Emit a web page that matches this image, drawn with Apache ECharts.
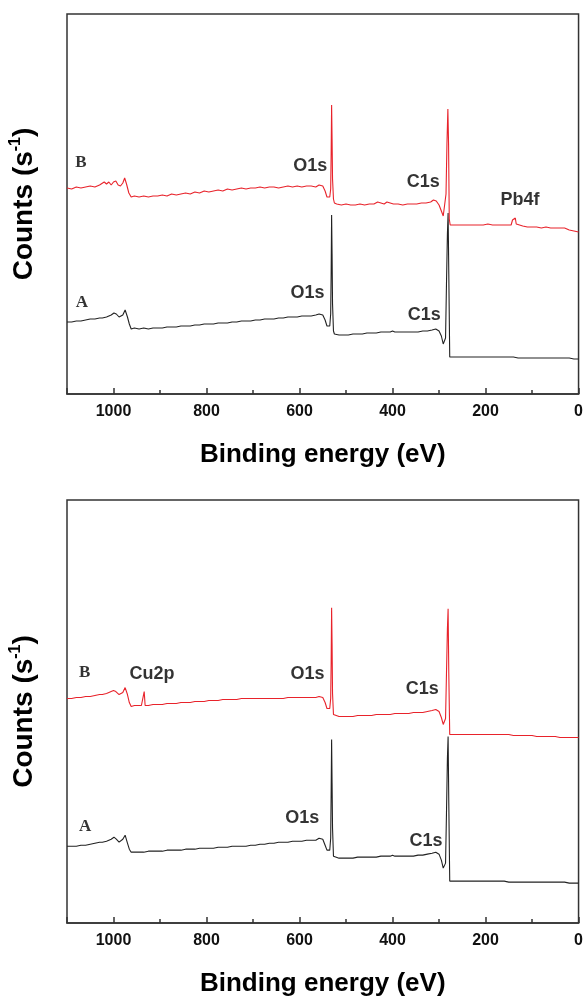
<!DOCTYPE html>
<html>
<head>
<meta charset="utf-8">
<script src="https://cdn.jsdelivr.net/npm/echarts@6/dist/echarts.min.js"></script>
<style>html,body{margin:0;padding:0;background:#fff;}#c{width:586px;height:998px;}</style>
</head>
<body>
<div id="c"></div>
<script>
// Binding energy ticks (eV)
const xTicks = [0, 200, 400, 600, 800, 1000];

// Panel 1 (Pb) : spectrum B (red) and A (black), [binding energy, counts a.u.]
const topB = [[1100,206],[1090,205],[1080,207],[1070,206],[1060,207],[1050,208],[1040,207],[1030,209],[1020,212],[1015,210],[1010,212],[1005,209],[1000,212],[995,213],[990,209],[985,208],[980,211],[976,216],[972,210],[967,201],[962,197],[955,198],[945,197],[935,198],[925,197],[915,198],[905,198],[895,199],[885,198],[875,200],[865,199],[855,200],[845,201],[835,200],[825,202],[815,201],[805,203],[795,202],[785,203],[775,204],[765,203],[755,205],[745,204],[735,205],[725,206],[715,205],[705,206],[695,206],[685,207],[675,206],[665,207],[655,207],[645,206],[635,207],[625,208],[615,207],[605,208],[595,207],[585,208],[575,208],[565,207],[558,209],[554,210],[550,208],[545,203],[541,197],[538,195],[535,197],[533,205],[532,240],[531,289],[530,255],[529,215],[527,195],[525,191],[520,190],[510,189],[500,190],[490,189],[480,189],[470,190],[460,189],[450,190],[440,190],[432,192],[428,190],[418,190],[412,192],[408,190],[398,190],[388,190],[378,189],[368,190],[358,190],[348,190],[338,191],[328,191],[318,192],[312,194],[306,193],[300,189],[295,183],[291,178],[288,180],[285,200],[283,250],[281,285],[279.5,250],[278,175],[276,169],[265,169],[255,169],[245,169],[235,169],[225,169],[215,169],[205,169],[195,170],[185,169],[175,169],[165,169],[155,169],[145,169],[142,174],[140,176],[138,172],[136,176],[134,170],[130,168],[120,168],[110,167],[100,167],[90,167],[80,166],[70,167],[60,166],[50,166],[40,166],[30,166],[20,164],[10,163],[0,162]];
const topA = [[1100,72],[1090,72],[1080,73],[1070,73],[1060,74],[1050,75],[1040,75],[1030,76],[1024,76],[1015,77],[1005,79],[999,81],[994,80],[988,77],[985,76],[980,79],[975,84],[970,77],[966,70],[962,65],[955,66],[945,65],[935,66],[925,65],[915,66],[905,66],[895,66],[885,67],[875,67],[865,67],[855,68],[845,68],[835,68],[825,69],[815,69],[805,70],[795,70],[785,70],[775,71],[765,71],[755,71],[745,72],[735,72],[725,73],[715,73],[705,73],[695,74],[685,74],[675,75],[665,75],[655,75],[645,76],[635,76],[625,77],[615,77],[605,77],[595,78],[585,78],[575,78],[565,79],[558,80],[554,81],[550,79],[545,74],[541,68],[538,66],[535,68],[533,80],[532,120],[531,179],[530,140],[529,90],[527,63],[525,60],[515,59],[505,59],[495,59],[485,60],[475,60],[465,60],[455,61],[445,61],[435,61],[425,62],[415,62],[405,62],[400,63],[395,62],[385,62],[375,62],[365,62],[355,62],[345,62],[335,63],[325,63],[315,64],[307,65],[300,63],[295,58],[291,50],[288,49],[286,56],[284,110],[282,160],[280.5,181],[279,120],[277,37],[270,37],[260,37],[250,37],[240,37],[230,37],[220,37],[210,37],[200,37],[190,37],[180,37],[170,37],[160,37],[150,37],[140,37],[130,36],[120,36],[110,36],[100,36],[90,36],[80,36],[70,36],[60,36],[50,36],[40,36],[30,36],[20,36],[10,35],[0,35]];

// Panel 2 (Cu)
const botB = [[1100,225],[1090,225],[1080,226],[1070,226],[1060,227],[1050,227],[1040,228],[1030,229],[1024,229],[1015,230],[1005,232],[1000,233],[995,232],[988,229],[985,228],[980,231],[975,236],[970,229],[966,221],[962,217],[955,218],[945,218],[940,218],[936,218],[934,232],[932,218],[925,218],[915,219],[905,219],[895,219],[885,220],[875,220],[865,220],[855,221],[845,221],[835,221],[825,222],[815,222],[805,222],[795,223],[785,223],[775,223],[765,224],[755,224],[745,224],[735,224],[725,225],[715,225],[705,225],[695,225],[685,225],[675,225],[665,225],[655,225],[645,225],[635,225],[625,226],[615,226],[605,226],[595,226],[585,226],[575,226],[565,226],[558,227],[554,228],[550,226],[545,221],[541,215],[538,213],[535,215],[533,225],[532,260],[531,316],[530,280],[529,230],[527,209],[525,207],[515,207],[505,207],[495,207],[485,207],[475,208],[465,208],[455,208],[445,208],[435,209],[425,209],[415,209],[405,209],[395,210],[385,210],[375,210],[365,210],[355,211],[345,211],[335,211],[325,212],[315,213],[307,214],[300,212],[295,206],[291,199],[288,198],[286,205],[284,250],[282,295],[280.5,315],[279,250],[277,189],[270,189],[260,189],[250,189],[240,189],[230,189],[220,189],[210,189],[200,189],[190,189],[180,189],[170,189],[160,189],[150,189],[140,188],[130,188],[120,188],[110,188],[100,188],[90,187],[80,187],[70,187],[60,187],[50,187],[40,186],[30,186],[20,186],[10,186],[0,186]];
const botA = [[1100,77],[1090,77],[1080,77],[1070,78],[1060,78],[1050,79],[1040,80],[1030,81],[1024,81],[1015,82],[1005,84],[999,86],[994,84],[988,81],[985,81],[980,84],[975,88],[970,80],[966,74],[962,71],[955,71],[945,71],[935,71],[925,72],[915,72],[905,72],[895,72],[885,73],[875,73],[865,73],[855,73],[845,74],[835,74],[825,74],[815,75],[805,75],[795,75],[785,75],[775,76],[765,76],[755,76],[745,77],[735,77],[725,77],[715,77],[705,78],[695,78],[685,79],[675,79],[665,80],[655,80],[645,81],[635,81],[625,81],[615,82],[605,82],[595,82],[585,83],[575,83],[565,83],[558,85],[554,86],[550,84],[545,78],[541,73],[538,71],[535,73],[533,85],[532,130],[531,184],[530,140],[529,95],[527,67],[525,65],[515,65],[505,65],[495,65],[485,65],[475,66],[465,66],[455,66],[445,66],[435,66],[425,67],[415,67],[405,67],[400,68],[395,67],[385,67],[375,67],[365,67],[355,67],[345,68],[335,68],[325,69],[315,70],[307,71],[300,69],[295,63],[291,55],[288,53],[286,60],[284,110],[282,165],[280.5,187],[279,120],[277,42],[270,42],[260,42],[250,42],[240,42],[230,42],[220,42],[210,42],[200,42],[190,42],[180,42],[170,42],[160,42],[150,41],[140,41],[130,41],[120,41],[110,41],[100,41],[90,41],[80,41],[70,41],[60,41],[50,41],[40,41],[30,41],[20,40],[10,40],[0,40]];

// Peak annotations [eV, counts, text]
const topPeakLabels = [[577,228,'O1s'],[334,212,'C1s'],[126,194,'Pb4f'],[583,101,'O1s'],[332,79,'C1s']];
const topCurveLabels = [[1070,231,'B'],[1068,91,'A']];
const botPeakLabels = [[917,250,'Cu2p'],[583,250,'O1s'],[336,235,'C1s'],[594,105,'O1s'],[328,82,'C1s']];
const botCurveLabels = [[1062,251,'B'],[1061,97,'A']];

const xTitle = 'Binding energy (eV)';
const RED = '#e8232b', BLACK = '#222222', AX = '#333333';

const chart = echarts.init(document.getElementById('c'), null, {renderer: 'canvas'});

function xAxisCfg(gi) {
  return {
    gridIndex: gi, type: 'value', inverse: true, min: 0, max: 1100, interval: 200,
    name: xTitle, nameLocation: 'middle', nameGap: 48,
    nameTextStyle: {fontFamily: 'Liberation Sans, Arial', fontWeight: 'bold', fontSize: 26, color: '#000'},
    axisLine: {show: true, lineStyle: {color: AX, width: 1.5}},
    axisTick: {show: true, inside: true, length: 6, lineStyle: {color: AX, width: 1.5}},
    minorTick: {show: true, splitNumber: 2, length: 4, lineStyle: {color: AX, width: 1.5}},
    splitLine: {show: false}, minorSplitLine: {show: false},
    axisLabel: {showMaxLabel: false, margin: 10, fontFamily: 'Liberation Sans, Arial', fontWeight: 'bold', fontSize: 16, color: '#111',
      formatter: v => xTicks.includes(v) ? String(v) : ''}
  };
}
function yAxisCfg(gi, ymax) {
  return {
    gridIndex: gi, type: 'value', min: 0, max: ymax,
    name: '{a|Counts (s}{s|-1}{a|)}', nameLocation: 'middle', nameGap: 27, nameRotate: 90,
    nameTextStyle: {rich: {
      a: {fontFamily: 'Liberation Sans, Arial', fontWeight: 'bold', fontSize: 28, color: '#000', lineHeight: 32},
      s: {fontFamily: 'Liberation Sans, Arial', fontWeight: 'bold', fontSize: 16, color: '#000', verticalAlign: 'top', lineHeight: 32, padding: [0, 0, 8, 0]}
    }},
    axisLine: {show: false}, axisTick: {show: false}, axisLabel: {show: false}, splitLine: {show: false}
  };
}
function lineSeries(gi, data, color) {
  return {type: 'line', xAxisIndex: gi, yAxisIndex: gi, data: data, showSymbol: false, symbol: 'none',
    lineStyle: {color: color, width: 1.1}, silent: true, animation: false, z: color === RED ? 3 : 2};
}
function labelSeries(gi, arr, serif) {
  return {type: 'scatter', xAxisIndex: gi, yAxisIndex: gi, symbolSize: 0, silent: true, animation: false, z: 5,
    data: arr.map(d => ({value: [d[0], d[1]], name: d[2]})),
    label: {show: true, position: 'inside', formatter: p => p.name,
      fontFamily: serif ? 'Liberation Serif, Times New Roman' : 'Liberation Sans, Arial',
      fontWeight: 'bold', fontSize: serif ? 17 : 18, color: '#000', textBorderWidth: 0, textShadowBlur: 0}};
}

chart.setOption({
  backgroundColor: '#fff',
  animation: false,
  grid: [
    {left: 64, right: 5, top: 14, height: 380, show: true, borderColor: AX, borderWidth: 1.5, backgroundColor: 'transparent'},
    {left: 64, right: 5, top: 500, height: 424, show: true, borderColor: AX, borderWidth: 1.5, backgroundColor: 'transparent'}
  ],
  xAxis: [xAxisCfg(0), xAxisCfg(1)],
  yAxis: [yAxisCfg(0, 380), yAxisCfg(1, 424)],
  series: [
    lineSeries(0, topA, BLACK), lineSeries(0, topB, RED),
    lineSeries(1, botA, BLACK), lineSeries(1, botB, RED),
    labelSeries(0, topPeakLabels, false), labelSeries(0, topCurveLabels, true),
    labelSeries(1, botPeakLabels, false), labelSeries(1, botCurveLabels, true)
  ]
});
</script>
</body>
</html>
